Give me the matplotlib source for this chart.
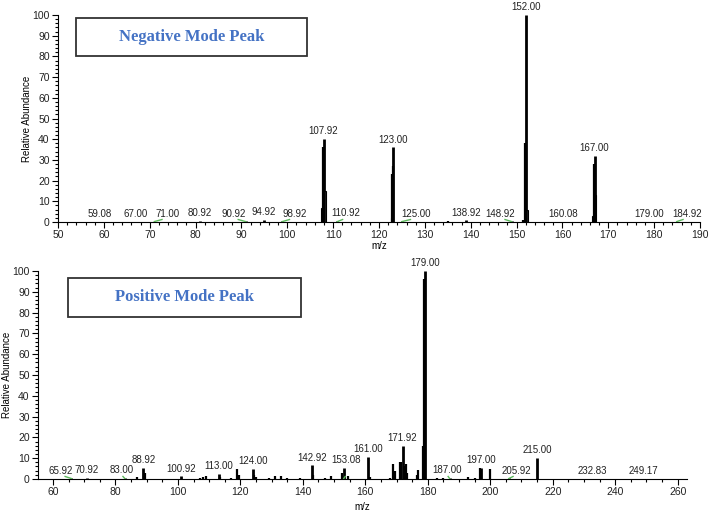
#!/usr/bin python3

# import required libraries
import matplotlib.pyplot as plt
from matplotlib.patches import Rectangle
from matplotlib.ticker import MultipleLocator

plt.rcParams['font.family'] = ['Liberation Sans', 'DejaVu Sans']

# negative mode: labelled peaks
neg_mz = [59.08, 67.00, 71.00, 80.92, 90.92, 94.92, 98.92, 107.92, 110.92,
          123.00, 125.00, 138.92, 148.92, 152.00, 160.08, 167.00, 179.00, 184.92]
neg_int = [0.2, 0.2, 0.2, 0.6, 0.3, 1.0, 0.3, 40, 0.6,
           36, 0.3, 0.8, 0.3, 100, 0.2, 32, 0.2, 0.2]
# label shift (m/z units) for labels moved off their peak
neg_shift = {71.00: 2.8, 90.92: -2.7, 98.92: 2.6, 110.92: 1.9,
             125.00: 3.1, 148.92: -2.4, 184.92: 2.3}
# unlabelled sticks and peak shoulders
neg_extra_mz = [107.75, 122.85, 123.15, 135.0, 151.4, 151.85, 166.85]
neg_extra_int = [36, 23, 27, 0.5, 1, 38, 28]
neg_hollow_mz = [107.6, 108.2, 122.7, 152.25, 166.7, 167.25]
neg_hollow_int = [7, 15, 2, 6, 3, 13]

# positive mode: labelled peaks
pos_mz = [65.92, 70.92, 83.00, 88.92, 100.92, 113.00, 124.00, 142.92, 153.08,
          161.00, 171.92, 179.00, 187.00, 197.00, 205.92, 215.00, 232.83, 249.17]
pos_int = [0.3, 0.5, 0.5, 5.5, 1.2, 2.5, 5.0, 6.5, 5.5,
           10.5, 16, 100, 0.6, 5.5, 0.3, 10, 0.2, 0.2]
pos_shift = {65.92: -3.4, 83.00: -1.0, 153.08: 0.8, 187.00: -0.8, 205.92: 2.3}
pos_extra_mz = [87.0, 89.4, 107.0, 108.0, 109.0, 113.5, 117.0, 119.0, 119.4,
                124.4, 125.0, 129.0, 131.0, 133.0, 135.0, 139.0, 143.3, 147.0,
                149.0, 152.6, 154.5, 161.4, 168.0, 169.0, 169.5, 171.0, 171.4,
                172.4, 173.0, 173.5, 176.5, 177.0, 178.4, 178.8, 183.0, 185.0,
                193.0, 195.0, 196.8, 200.0]
pos_extra_int = [1.0, 3.0, 0.5, 1.0, 1.5, 1.0, 0.5, 5.0, 2.0,
                 2.0, 1.0, 0.5, 1.5, 1.5, 0.5, 0.5, 2.0, 0.5,
                 1.5, 3.0, 1.5, 1.0, 0.5, 7.0, 4.0, 8.0, 8.0,
                 6.0, 7.0, 3.0, 2.0, 4.5, 16, 96, 0.5, 0.5,
                 1.0, 0.5, 5.5, 5.0]

BLUE = '#4472C4'
GREEN = '#5CB85C'


def draw_spectrum(ax, mz, inten, shift, extra_mz, extra_int, hollow_mz=None, hollow_int=None):
    if hollow_mz:
        ax.bar(hollow_mz, hollow_int, width=0.35, facecolor='white',
               edgecolor='black', linewidth=0.8, zorder=2)
    ax.vlines(extra_mz, 0, extra_int, color='black', linewidth=1.6, zorder=3)
    ax.vlines(mz, 0, inten, color='black', linewidth=2.0, zorder=3)
    for m, h in zip(mz, inten):
        dx = shift.get(m, 0)
        if dx:
            ax.plot([m, m + dx * 0.6], [0.2, 1.2], color=GREEN, lw=1, zorder=4)
        ax.annotate('%.2f' % m, (m + dx, h), xytext=(0, 2), textcoords='offset points',
                    ha='center', va='bottom', fontsize=7, color='#222222',
                    annotation_clip=False)


def style_axes(ax, xmaj, xmin, label_y):
    ax.set_ylim(0, 100)
    ax.spines['top'].set_visible(False)
    ax.spines['right'].set_visible(False)
    ax.xaxis.set_major_locator(MultipleLocator(xmaj))
    ax.xaxis.set_minor_locator(MultipleLocator(xmin))
    ax.yaxis.set_major_locator(MultipleLocator(10))
    ax.yaxis.set_minor_locator(MultipleLocator(2))
    ax.tick_params(which='major', direction='out', length=4, width=0.8,
                   labelsize=7.5, labelcolor='#222222', pad=2)
    ax.tick_params(which='minor', direction='out', length=2.5, width=0.8)
    ax.set_xlabel('m/z', fontsize=7)
    ax.set_ylabel('Relative Abundance', fontsize=7)
    ax.xaxis.set_label_coords(0.5, label_y)
    ax.yaxis.set_label_coords(-0.04, 0.5)


def title_box(fig, x, y, w, h, text):
    fig.add_artist(Rectangle((x, y), w, h, transform=fig.transFigure,
                             facecolor='white', edgecolor='#333333', linewidth=1.3))
    fig.text(x + w / 2, y + h / 2, text, ha='center', va='center',
             family='Liberation Serif', fontweight='bold', fontsize=12, color=BLUE)


def main():
    fig = plt.figure(figsize=(7.09, 5.12), dpi=100)

    # Negative mode spectrum
    ax1 = fig.add_axes([0.0818, 0.5664, 0.9055, 0.4043])
    draw_spectrum(ax1, neg_mz, neg_int, neg_shift, neg_extra_mz, neg_extra_int,
                  neg_hollow_mz, neg_hollow_int)
    ax1.set_xlim(50, 190)
    style_axes(ax1, 10, 2, -0.09)
    title_box(fig, 0.1072, 0.8906, 0.3258, 0.0742, 'Negative Mode Peak')

    # Positive mode spectrum
    ax2 = fig.add_axes([0.0536, 0.0645, 0.9154, 0.4063])
    draw_spectrum(ax2, pos_mz, pos_int, pos_shift, pos_extra_mz, pos_extra_int)
    ax2.set_xlim(55.2, 263)
    style_axes(ax2, 20, 5, -0.11)
    title_box(fig, 0.0959, 0.3809, 0.3286, 0.0762, 'Positive Mode Peak')

    plt.savefig('out.png', dpi=100)


if __name__ == '__main__':
    main()
